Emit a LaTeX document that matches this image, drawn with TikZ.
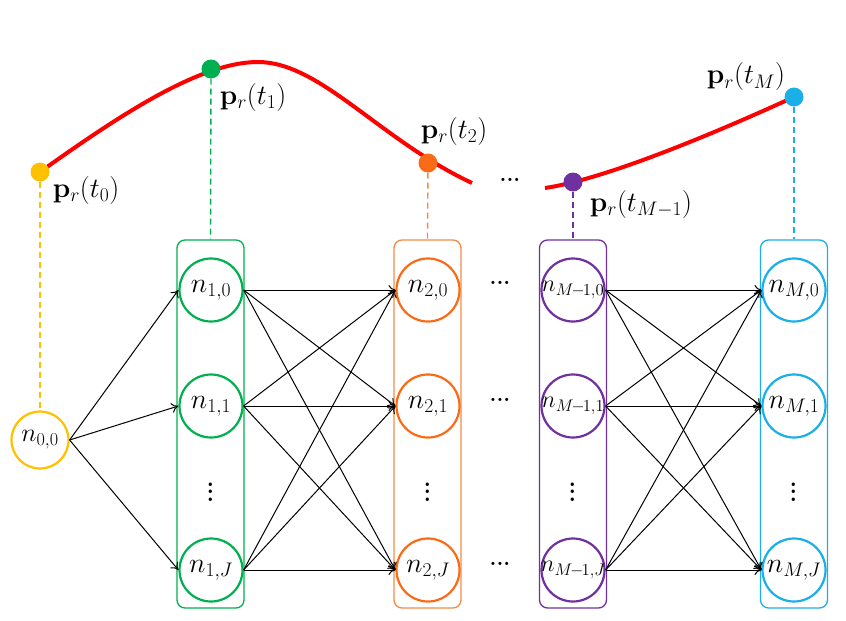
\RequirePackage{fix-cm}
\documentclass[tikz,border=0pt]{standalone}
\usepackage{amsmath}
\usetikzlibrary{arrows.meta}
\definecolor{cyel}{HTML}{FFC000}
\definecolor{cgrn}{HTML}{00B050}
\definecolor{corg}{HTML}{F96B17}
\definecolor{corgl}{HTML}{F58A45}
\definecolor{cpur}{HTML}{7030A0}
\definecolor{ccya}{HTML}{1AAFE6}
\definecolor{cred}{HTML}{FF0000}
\begin{document}
\begin{tikzpicture}[x=1pt,y=-1pt,
  nd/.style={circle,draw,line width=2.2pt,minimum size=63pt,inner sep=0pt,font=\fontsize{28}{32}\selectfont},
  ndm/.style={nd,inner sep=-4pt,font=\fontsize{24}{28}\selectfont},
  colbox/.style={draw,rounded corners=8pt,line width=1.3pt,minimum width=67pt,minimum height=368pt,inner sep=0pt},
  arr/.style={-{To[length=7pt,width=10pt]},line width=1pt},
  vline/.style={line width=1.4pt,dash pattern=on 6pt off 4pt},
  tpt/.style={circle,fill,inner sep=0pt,minimum size=19pt},
  lab/.style={font=\fontsize{28}{32}\selectfont,inner sep=0pt},
  ell/.style={font=\fontsize{22}{26}\selectfont\bfseries,inner sep=0pt},
  vd/.style={font=\fontsize{24}{28}\selectfont\bfseries,inner sep=0pt,rotate=90}]
\useasboundingbox (0,0) rectangle (846,621);

% trajectory
\draw[cred,line width=4pt] (40,172) .. controls (120,115) and (200,62) .. (258,62)
  .. controls (320,62) and (380,140) .. (472,183);
\draw[cred,line width=4pt] (545,188) .. controls (600,180) and (700,140) .. (794,97);
\node[ell] (dtop) at (510,180) {...};

% column boxes
\node[colbox,draw=cgrn] (b1) at (210.5,424) {};
\node[colbox,draw=corgl] (b2) at (427.5,424) {};
\node[colbox,draw=cpur] (b3) at (573,424) {};
\node[colbox,draw=ccya] (b4) at (794,424) {};

% trajectory points
\node[tpt,fill=cyel] (p0) at (40,172) {};
\node[tpt,fill=cgrn] (p1) at (211,69) {};
\node[tpt,fill=corg] (p2) at (428,163) {};
\node[tpt,fill=cpur] (p3) at (573,182) {};
\node[tpt,fill=ccya] (p4) at (794,97) {};

\node[lab] (l0) at (86,190) {$\mathbf{p}_r(t_0)$};
\node[lab] (l1) at (253,97) {$\mathbf{p}_r(t_1)$};
\node[lab] (l2) at (454,131) {$\mathbf{p}_r(t_2)$};
\node[lab] (l3) at (641,204) {$\mathbf{p}_r(t_{M-1})$};
\node[lab] (l4) at (746,77) {$\mathbf{p}_r(t_M)$};

% nodes
\node[nd,draw=cyel,minimum size=57pt,font=\fontsize{26}{30}\selectfont] (n00) at (40,440) {$n_{0,0}$};
\node[nd,draw=cgrn] (n10) at (211,290) {$n_{1,0}$};
\node[nd,draw=cgrn] (n11) at (211,406) {$n_{1,1}$};
\node[nd,draw=cgrn] (n1J) at (211,570) {$n_{1,J}$};
\node[nd,draw=corg] (n20) at (428,290) {$n_{2,0}$};
\node[nd,draw=corg] (n21) at (428,406) {$n_{2,1}$};
\node[nd,draw=corg] (n2J) at (428,570) {$n_{2,J}$};
\node[ndm,draw=cpur] (n30) at (573,290) {$n_{M\mkern-2mu-\mkern-2mu1,0}$};
\node[ndm,draw=cpur] (n31) at (573,406) {$n_{M\mkern-2mu-\mkern-2mu1,1}$};
\node[ndm,draw=cpur] (n3J) at (573,570) {$n_{M\mkern-2mu-\mkern-2mu1,J}$};
\node[nd,draw=ccya] (n40) at (794,290) {$n_{M,0}$};
\node[nd,draw=ccya] (n41) at (794,406) {$n_{M,1}$};
\node[nd,draw=ccya] (n4J) at (794,570) {$n_{M,J}$};

% vertical dots
\node[vd] (v1) at (211,492) {...};
\node[vd] (v2) at (428,492) {...};
\node[vd] (v3) at (573,492) {...};
\node[vd] (v4) at (794,492) {...};

% horizontal dots between columns
\node[ell] (h0) at (500,283) {...};
\node[ell] (h1) at (500,400) {...};
\node[ell] (h2) at (500,564) {...};

% dashed links
\draw[vline,cyel] (p0) -- (n00);
\draw[vline,cgrn] (p1) -- (b1.north);
\draw[vline,corgl] (p2) -- (b2.north);
\draw[vline,cpur] (p3) -- (b3.north);
\draw[vline,ccya] (p4) -- (b4.north);

% arrows
\foreach \t in {n10,n11,n1J} \draw[arr] (n00.east) -- (\t.west);
\foreach \s in {n10,n11,n1J} \foreach \t in {n20,n21,n2J} \draw[arr] (\s.east) -- (\t.west);
\foreach \s in {n30,n31,n3J} \foreach \t in {n40,n41,n4J} \draw[arr] (\s.east) -- (\t.west);
\end{tikzpicture}
\end{document}
